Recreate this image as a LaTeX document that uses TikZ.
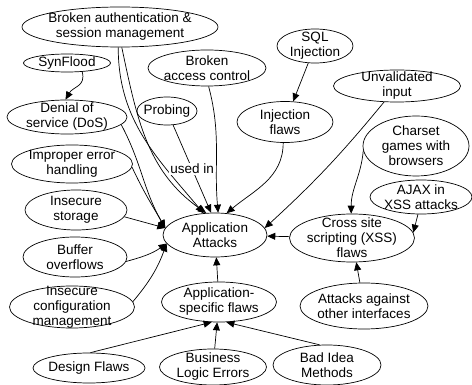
\documentclass[tikz,border=0pt]{standalone}
\usepackage{fontspec}
\setmainfont{Liberation Sans}
\usetikzlibrary{shapes.geometric,arrows.meta}

\tikzset{
	att/.style={draw, ellipse, fill=white, align=center, inner sep=-40pt, line width=0.7pt,
		font=\fontsize{13.5}{15}\selectfont},
	sz/.style 2 args={minimum width=#1pt, minimum height=#2pt},
	link/.style={-{Triangle[length=8pt,width=7pt]}, line width=0.7pt},
}

\begin{document}
\begin{tikzpicture}[x=1pt,y=-1pt]
			\useasboundingbox (0,0) rectangle (472,385);

			\node[att,sz={196}{40}] (auth) at (120,27) {Broken authentication \&\\session management};
			\node[att,sz={87}{18}] (syn) at (67,63) {SynFlood};
			\node[att,sz={120}{34}] (dos) at (67,117) {Denial of\\service (DoS)};
			\node[att,sz={118}{36}] (bac) at (207,68) {Broken\\access control};
			\node[att,sz={60}{28}] (probe) at (167,111) {Probing};
			\node[att,sz={76}{34}] (sql) at (315,46) {SQL\\Injection};
			\node[att,sz={96}{41}] (inj) at (285,122) {Injection\\flaws};
			\node[att,sz={127}{32}] (unv) at (397,86) {Unvalidated\\input};
			\node[att,sz={121}{38}] (err) at (72,164) {Improper error\\handling};
			\node[att,sz={102}{40}] (stor) at (76,210) {Insecure\\storage};
			\node[att,sz={104}{40}] (buf) at (75,257) {Buffer\\overflows};
			\node[att,sz={125}{42}] (conf) at (72,307) {Insecure\\configuration\\management};
			\node[att,sz={104}{44}] (app) at (215,235) {Application\\Attacks};
			\node[att,sz={106}{60}] (chr) at (416,146) {Charset\\games with\\browsers};
			\node[att,sz={102}{34}] (ajax) at (421,197) {AJAX in\\XSS attacks};
			\node[att,sz={125}{48}] (xss) at (352,238) {Cross site\\scripting (XSS)\\flaws};
			\node[att,sz={115}{40}] (spec) at (219,302) {Application-\\specific flaws};
			\node[att,sz={128}{46}] (other) at (364,306) {Attacks against\\other interfaces};
			\node[att,sz={112}{30}] (design) at (89,368) {Design Flaws};
			\node[att,sz={107}{36}] (logic) at (213,367) {Business\\Logic Errors};
			\node[att,sz={108}{40}] (badidea) at (327,365) {Bad Idea\\Methods};

			\draw[link] (syn.-30) to[out=-75,in=60,looseness=1.2] (dos.95);
			\draw[link] (auth.-95) to[out=-90,in=130] (app.118);
			\draw[link] (auth.-85) to[out=-78,in=145] (app.112);
			\draw[link] (probe) -- node[fill=white,inner sep=1pt,font=\fontsize{13.5}{15}\selectfont]{used in} (app.100);
			\draw[link] (bac.-85) to[out=-75,in=95] (app.82);
			\draw[link] (sql) -- (inj);
			\draw[link] (inj.-95) to[out=-90,in=40] (app.62);
			\draw[link] (unv) to[bend left=4] (app.8);
			\draw[link] (dos.-8) to[out=-62,in=120] (app.172);
			\draw[link] (err.-3) to[out=-65,in=120] (app.172);
			\draw[link] (stor.-8) -- (app.172);
			\draw[link] (buf.-5) to[out=15,in=-145] (app.190);
			\draw[link] (conf.5) to[out=50,in=-110] (app.190);
			\draw[link] (chr.185) to[out=-95,in=90] (xss.92);
			\draw[link] (ajax.-100) -- (xss.5);
			\draw[link] (xss) -- (app);
			\draw[link] (other) -- (xss);
			\draw[link] (spec) -- (app);
			\draw[link] (design.85) -- (spec.-110);
			\draw[link] (logic) -- (spec);
			\draw[link] (badidea.110) -- (spec.-70);

		\end{tikzpicture}
\end{document}
